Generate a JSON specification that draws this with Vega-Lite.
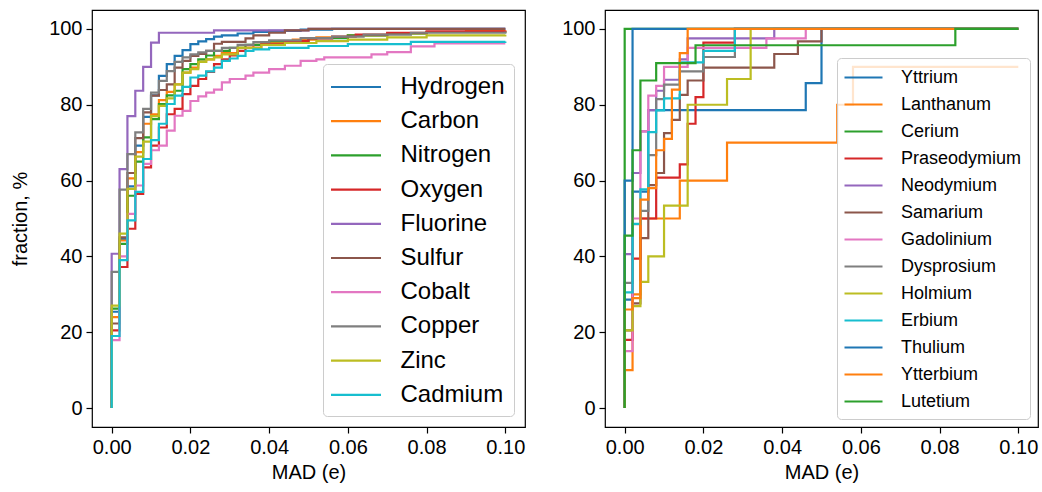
{
  "$schema": "https://vega.github.io/schema/vega-lite/v6.json",
  "padding": {"left": 10, "top": 9, "right": 0, "bottom": 0},
  "spacing": 35,
  "align": "none",
  "config": {
    "font": "Liberation Sans",
    "view": {"stroke": "black", "strokeWidth": 1.2},
    "axis": {"grid": false, "domain": false, "tickColor": "black", "tickSize": 6, "tickWidth": 1.2, "labelFontSize": 20, "labelColor": "black", "labelPadding": 4, "titleFontSize": 20, "titleFontWeight": "normal", "titleColor": "black"},
    "legend": {"strokeColor": "#cccccc", "cornerRadius": 4, "fillColor": "rgba(255,255,255,0.8)", "labelColor": "black", "title": null}
  },
  "datasets": {
    "left": [
      {"s":"Hydrogen","x":0,"y":0},{"s":"Hydrogen","x":0,"y":25.4},{"s":"Hydrogen","x":0.002,"y":44.6},{"s":"Hydrogen","x":0.004,"y":58.5},{"s":"Hydrogen","x":0.006,"y":69.2},{"s":"Hydrogen","x":0.008,"y":76.8},{"s":"Hydrogen","x":0.01,"y":82.5},{"s":"Hydrogen","x":0.012,"y":87.6},{"s":"Hydrogen","x":0.014,"y":90.7},{"s":"Hydrogen","x":0.016,"y":92.9},{"s":"Hydrogen","x":0.018,"y":94.4},{"s":"Hydrogen","x":0.02,"y":96},{"s":"Hydrogen","x":0.022,"y":96.7},{"s":"Hydrogen","x":0.024,"y":97.3},{"s":"Hydrogen","x":0.026,"y":98},{"s":"Hydrogen","x":0.028,"y":98.3},{"s":"Hydrogen","x":0.032,"y":98.8},{"s":"Hydrogen","x":0.036,"y":99.2},{"s":"Hydrogen","x":0.04,"y":99.5},{"s":"Hydrogen","x":0.048,"y":99.8},{"s":"Hydrogen","x":0.056,"y":100},{"s":"Hydrogen","x":0.1,"y":100},
      {"s":"Carbon","x":0,"y":0},{"s":"Carbon","x":0,"y":24},{"s":"Carbon","x":0.002,"y":44.2},{"s":"Carbon","x":0.004,"y":60.6},{"s":"Carbon","x":0.006,"y":67.5},{"s":"Carbon","x":0.008,"y":75},{"s":"Carbon","x":0.01,"y":77.5},{"s":"Carbon","x":0.012,"y":81.2},{"s":"Carbon","x":0.014,"y":83.4},{"s":"Carbon","x":0.016,"y":85.4},{"s":"Carbon","x":0.018,"y":88.5},{"s":"Carbon","x":0.02,"y":89.8},{"s":"Carbon","x":0.022,"y":91.4},{"s":"Carbon","x":0.024,"y":92},{"s":"Carbon","x":0.026,"y":92.9},{"s":"Carbon","x":0.028,"y":93.6},{"s":"Carbon","x":0.032,"y":95},{"s":"Carbon","x":0.036,"y":95.8},{"s":"Carbon","x":0.04,"y":96.5},{"s":"Carbon","x":0.046,"y":97.2},{"s":"Carbon","x":0.052,"y":97.8},{"s":"Carbon","x":0.06,"y":98.3},{"s":"Carbon","x":0.07,"y":98.8},{"s":"Carbon","x":0.08,"y":99.2},{"s":"Carbon","x":0.09,"y":99.5},{"s":"Carbon","x":0.1,"y":99.6},
      {"s":"Nitrogen","x":0,"y":0},{"s":"Nitrogen","x":0,"y":26.2},{"s":"Nitrogen","x":0.002,"y":43.3},{"s":"Nitrogen","x":0.004,"y":56},{"s":"Nitrogen","x":0.006,"y":65},{"s":"Nitrogen","x":0.008,"y":71.4},{"s":"Nitrogen","x":0.01,"y":76.2},{"s":"Nitrogen","x":0.012,"y":80.2},{"s":"Nitrogen","x":0.014,"y":82.5},{"s":"Nitrogen","x":0.016,"y":83.7},{"s":"Nitrogen","x":0.018,"y":89.4},{"s":"Nitrogen","x":0.02,"y":90.7},{"s":"Nitrogen","x":0.022,"y":92},{"s":"Nitrogen","x":0.024,"y":93},{"s":"Nitrogen","x":0.026,"y":94.2},{"s":"Nitrogen","x":0.03,"y":95},{"s":"Nitrogen","x":0.034,"y":95.8},{"s":"Nitrogen","x":0.04,"y":96.8},{"s":"Nitrogen","x":0.05,"y":97.6},{"s":"Nitrogen","x":0.06,"y":98.3},{"s":"Nitrogen","x":0.07,"y":98.8},{"s":"Nitrogen","x":0.08,"y":99.2},{"s":"Nitrogen","x":0.1,"y":99.3},
      {"s":"Oxygen","x":0,"y":0},{"s":"Oxygen","x":0,"y":20.5},{"s":"Oxygen","x":0.002,"y":37.2},{"s":"Oxygen","x":0.004,"y":47.3},{"s":"Oxygen","x":0.006,"y":56.5},{"s":"Oxygen","x":0.008,"y":63.5},{"s":"Oxygen","x":0.01,"y":69.2},{"s":"Oxygen","x":0.012,"y":74},{"s":"Oxygen","x":0.014,"y":77.5},{"s":"Oxygen","x":0.016,"y":78.9},{"s":"Oxygen","x":0.018,"y":82.8},{"s":"Oxygen","x":0.02,"y":85},{"s":"Oxygen","x":0.022,"y":86.8},{"s":"Oxygen","x":0.024,"y":88.7},{"s":"Oxygen","x":0.026,"y":90.7},{"s":"Oxygen","x":0.028,"y":92},{"s":"Oxygen","x":0.03,"y":93},{"s":"Oxygen","x":0.032,"y":94.2},{"s":"Oxygen","x":0.034,"y":95},{"s":"Oxygen","x":0.038,"y":96},{"s":"Oxygen","x":0.044,"y":96.8},{"s":"Oxygen","x":0.05,"y":97.5},{"s":"Oxygen","x":0.056,"y":98},{"s":"Oxygen","x":0.062,"y":98.5},{"s":"Oxygen","x":0.07,"y":99},{"s":"Oxygen","x":0.08,"y":99.4},{"s":"Oxygen","x":0.1,"y":99.6},
      {"s":"Fluorine","x":0,"y":0},{"s":"Fluorine","x":0,"y":40.7},{"s":"Fluorine","x":0.002,"y":63},{"s":"Fluorine","x":0.004,"y":77},{"s":"Fluorine","x":0.006,"y":83.7},{"s":"Fluorine","x":0.008,"y":90},{"s":"Fluorine","x":0.01,"y":96.4},{"s":"Fluorine","x":0.012,"y":99},{"s":"Fluorine","x":0.026,"y":99.6},{"s":"Fluorine","x":0.05,"y":100},{"s":"Fluorine","x":0.1,"y":100},
      {"s":"Sulfur","x":0,"y":0},{"s":"Sulfur","x":0,"y":22.3},{"s":"Sulfur","x":0.002,"y":45},{"s":"Sulfur","x":0.004,"y":62},{"s":"Sulfur","x":0.006,"y":71.2},{"s":"Sulfur","x":0.008,"y":78},{"s":"Sulfur","x":0.01,"y":82.4},{"s":"Sulfur","x":0.012,"y":83.9},{"s":"Sulfur","x":0.014,"y":85.4},{"s":"Sulfur","x":0.016,"y":89.8},{"s":"Sulfur","x":0.018,"y":91.6},{"s":"Sulfur","x":0.02,"y":92.9},{"s":"Sulfur","x":0.022,"y":93.4},{"s":"Sulfur","x":0.024,"y":94.2},{"s":"Sulfur","x":0.026,"y":96.1},{"s":"Sulfur","x":0.028,"y":96.6},{"s":"Sulfur","x":0.034,"y":97.5},{"s":"Sulfur","x":0.036,"y":98.3},{"s":"Sulfur","x":0.04,"y":99},{"s":"Sulfur","x":0.044,"y":99.6},{"s":"Sulfur","x":0.05,"y":100},{"s":"Sulfur","x":0.1,"y":100},
      {"s":"Cobalt","x":0,"y":0},{"s":"Cobalt","x":0,"y":17.9},{"s":"Cobalt","x":0.002,"y":40},{"s":"Cobalt","x":0.004,"y":51.2},{"s":"Cobalt","x":0.006,"y":58.7},{"s":"Cobalt","x":0.008,"y":64.4},{"s":"Cobalt","x":0.01,"y":68},{"s":"Cobalt","x":0.012,"y":69.2},{"s":"Cobalt","x":0.014,"y":73.2},{"s":"Cobalt","x":0.016,"y":77.1},{"s":"Cobalt","x":0.018,"y":78.4},{"s":"Cobalt","x":0.02,"y":81},{"s":"Cobalt","x":0.022,"y":82.2},{"s":"Cobalt","x":0.024,"y":83.2},{"s":"Cobalt","x":0.026,"y":84},{"s":"Cobalt","x":0.028,"y":85.9},{"s":"Cobalt","x":0.03,"y":86.8},{"s":"Cobalt","x":0.034,"y":87.7},{"s":"Cobalt","x":0.036,"y":88.5},{"s":"Cobalt","x":0.04,"y":89.4},{"s":"Cobalt","x":0.044,"y":90.3},{"s":"Cobalt","x":0.048,"y":91.6},{"s":"Cobalt","x":0.052,"y":92},{"s":"Cobalt","x":0.054,"y":92.5},{"s":"Cobalt","x":0.066,"y":93.3},{"s":"Cobalt","x":0.07,"y":93.9},{"s":"Cobalt","x":0.076,"y":95.4},{"s":"Cobalt","x":0.082,"y":96.2},{"s":"Cobalt","x":0.1,"y":96.2},
      {"s":"Copper","x":0,"y":0},{"s":"Copper","x":0,"y":35.9},{"s":"Copper","x":0.002,"y":57.6},{"s":"Copper","x":0.004,"y":67},{"s":"Copper","x":0.006,"y":72.7},{"s":"Copper","x":0.008,"y":78.9},{"s":"Copper","x":0.01,"y":83.2},{"s":"Copper","x":0.012,"y":86.3},{"s":"Copper","x":0.014,"y":88.9},{"s":"Copper","x":0.016,"y":91.3},{"s":"Copper","x":0.018,"y":92.5},{"s":"Copper","x":0.02,"y":93.3},{"s":"Copper","x":0.022,"y":93.8},{"s":"Copper","x":0.024,"y":94.2},{"s":"Copper","x":0.028,"y":95},{"s":"Copper","x":0.032,"y":95.8},{"s":"Copper","x":0.036,"y":96.5},{"s":"Copper","x":0.04,"y":97},{"s":"Copper","x":0.048,"y":97.6},{"s":"Copper","x":0.056,"y":98},{"s":"Copper","x":0.064,"y":98.5},{"s":"Copper","x":0.076,"y":99},{"s":"Copper","x":0.1,"y":99.3},
      {"s":"Zinc","x":0,"y":0},{"s":"Zinc","x":0,"y":27},{"s":"Zinc","x":0.002,"y":46},{"s":"Zinc","x":0.004,"y":57.8},{"s":"Zinc","x":0.006,"y":66.3},{"s":"Zinc","x":0.008,"y":70.3},{"s":"Zinc","x":0.01,"y":77},{"s":"Zinc","x":0.012,"y":79.7},{"s":"Zinc","x":0.014,"y":81.7},{"s":"Zinc","x":0.016,"y":85.4},{"s":"Zinc","x":0.018,"y":88.5},{"s":"Zinc","x":0.02,"y":89.4},{"s":"Zinc","x":0.022,"y":91.3},{"s":"Zinc","x":0.024,"y":92},{"s":"Zinc","x":0.026,"y":92.5},{"s":"Zinc","x":0.028,"y":93.3},{"s":"Zinc","x":0.032,"y":95},{"s":"Zinc","x":0.038,"y":95.8},{"s":"Zinc","x":0.044,"y":96.3},{"s":"Zinc","x":0.052,"y":96.8},{"s":"Zinc","x":0.06,"y":97.2},{"s":"Zinc","x":0.07,"y":97.8},{"s":"Zinc","x":0.08,"y":98.3},{"s":"Zinc","x":0.1,"y":98.5},
      {"s":"Cadmium","x":0,"y":0},{"s":"Cadmium","x":0,"y":19},{"s":"Cadmium","x":0.002,"y":39},{"s":"Cadmium","x":0.004,"y":49.5},{"s":"Cadmium","x":0.006,"y":57},{"s":"Cadmium","x":0.008,"y":65.7},{"s":"Cadmium","x":0.01,"y":70.7},{"s":"Cadmium","x":0.012,"y":75},{"s":"Cadmium","x":0.014,"y":80.2},{"s":"Cadmium","x":0.016,"y":82.4},{"s":"Cadmium","x":0.018,"y":84.7},{"s":"Cadmium","x":0.02,"y":87.2},{"s":"Cadmium","x":0.022,"y":87.7},{"s":"Cadmium","x":0.024,"y":88.8},{"s":"Cadmium","x":0.026,"y":89.8},{"s":"Cadmium","x":0.028,"y":91.6},{"s":"Cadmium","x":0.03,"y":92.2},{"s":"Cadmium","x":0.032,"y":92.9},{"s":"Cadmium","x":0.034,"y":94.2},{"s":"Cadmium","x":0.036,"y":94.6},{"s":"Cadmium","x":0.04,"y":95},{"s":"Cadmium","x":0.05,"y":95.5},{"s":"Cadmium","x":0.06,"y":96},{"s":"Cadmium","x":0.076,"y":96.6},{"s":"Cadmium","x":0.1,"y":96.7}
    ],
    "right": [
      {"s":"Yttrium","x":0,"y":0},{"s":"Yttrium","x":0,"y":28.6},{"s":"Yttrium","x":0.002,"y":57.1},{"s":"Yttrium","x":0.006,"y":78.6},{"s":"Yttrium","x":0.046,"y":85.7},{"s":"Yttrium","x":0.05,"y":100},{"s":"Yttrium","x":0.1,"y":100},
      {"s":"Lanthanum","x":0,"y":0},{"s":"Lanthanum","x":0,"y":10},{"s":"Lanthanum","x":0.002,"y":30},{"s":"Lanthanum","x":0.004,"y":50},{"s":"Lanthanum","x":0.014,"y":60},{"s":"Lanthanum","x":0.026,"y":70},{"s":"Lanthanum","x":0.054,"y":80},{"s":"Lanthanum","x":0.058,"y":90},{"s":"Lanthanum","x":0.1,"y":90},
      {"s":"Cerium","x":0,"y":0},{"s":"Cerium","x":0,"y":100},{"s":"Cerium","x":0.1,"y":100},
      {"s":"Praseodymium","x":0,"y":0},{"s":"Praseodymium","x":0,"y":18},{"s":"Praseodymium","x":0.002,"y":39.4},{"s":"Praseodymium","x":0.004,"y":50},{"s":"Praseodymium","x":0.008,"y":60.8},{"s":"Praseodymium","x":0.014,"y":64.3},{"s":"Praseodymium","x":0.016,"y":75},{"s":"Praseodymium","x":0.018,"y":82},{"s":"Praseodymium","x":0.02,"y":96.4},{"s":"Praseodymium","x":0.028,"y":100},{"s":"Praseodymium","x":0.1,"y":100},
      {"s":"Neodymium","x":0,"y":0},{"s":"Neodymium","x":0,"y":40.6},{"s":"Neodymium","x":0.002,"y":62},{"s":"Neodymium","x":0.004,"y":73},{"s":"Neodymium","x":0.006,"y":78.6},{"s":"Neodymium","x":0.008,"y":83.7},{"s":"Neodymium","x":0.01,"y":86.6},{"s":"Neodymium","x":0.014,"y":92},{"s":"Neodymium","x":0.016,"y":97.5},{"s":"Neodymium","x":0.038,"y":100},{"s":"Neodymium","x":0.1,"y":100},
      {"s":"Samarium","x":0,"y":0},{"s":"Samarium","x":0,"y":20.5},{"s":"Samarium","x":0.002,"y":27.6},{"s":"Samarium","x":0.004,"y":44.8},{"s":"Samarium","x":0.006,"y":58.8},{"s":"Samarium","x":0.008,"y":62},{"s":"Samarium","x":0.01,"y":72.5},{"s":"Samarium","x":0.012,"y":76},{"s":"Samarium","x":0.014,"y":82.6},{"s":"Samarium","x":0.016,"y":86.4},{"s":"Samarium","x":0.02,"y":89.8},{"s":"Samarium","x":0.038,"y":93.4},{"s":"Samarium","x":0.044,"y":96.7},{"s":"Samarium","x":0.05,"y":100},{"s":"Samarium","x":0.1,"y":100},
      {"s":"Gadolinium","x":0,"y":0},{"s":"Gadolinium","x":0,"y":15},{"s":"Gadolinium","x":0.002,"y":50},{"s":"Gadolinium","x":0.004,"y":73},{"s":"Gadolinium","x":0.006,"y":82.4},{"s":"Gadolinium","x":0.008,"y":85},{"s":"Gadolinium","x":0.01,"y":90},{"s":"Gadolinium","x":0.016,"y":95},{"s":"Gadolinium","x":0.036,"y":97.5},{"s":"Gadolinium","x":0.046,"y":100},{"s":"Gadolinium","x":0.1,"y":100},
      {"s":"Dysprosium","x":0,"y":0},{"s":"Dysprosium","x":0,"y":33},{"s":"Dysprosium","x":0.002,"y":48.5},{"s":"Dysprosium","x":0.004,"y":52},{"s":"Dysprosium","x":0.006,"y":66.7},{"s":"Dysprosium","x":0.008,"y":81.5},{"s":"Dysprosium","x":0.01,"y":85.3},{"s":"Dysprosium","x":0.014,"y":88.8},{"s":"Dysprosium","x":0.02,"y":92.6},{"s":"Dysprosium","x":0.028,"y":100},{"s":"Dysprosium","x":0.1,"y":100},
      {"s":"Holmium","x":0,"y":0},{"s":"Holmium","x":0,"y":20.5},{"s":"Holmium","x":0.002,"y":26.9},{"s":"Holmium","x":0.004,"y":33.3},{"s":"Holmium","x":0.006,"y":40},{"s":"Holmium","x":0.01,"y":53.4},{"s":"Holmium","x":0.016,"y":80},{"s":"Holmium","x":0.026,"y":86.8},{"s":"Holmium","x":0.032,"y":100},{"s":"Holmium","x":0.1,"y":100},
      {"s":"Erbium","x":0,"y":0},{"s":"Erbium","x":0,"y":30.5},{"s":"Erbium","x":0.002,"y":48.6},{"s":"Erbium","x":0.004,"y":57.7},{"s":"Erbium","x":0.006,"y":72.8},{"s":"Erbium","x":0.008,"y":78.5},{"s":"Erbium","x":0.01,"y":81.7},{"s":"Erbium","x":0.014,"y":91.2},{"s":"Erbium","x":0.02,"y":94.2},{"s":"Erbium","x":0.028,"y":100},{"s":"Erbium","x":0.1,"y":100},
      {"s":"Thulium","x":0,"y":0},{"s":"Thulium","x":0,"y":60},{"s":"Thulium","x":0.002,"y":100},{"s":"Thulium","x":0.1,"y":100},
      {"s":"Ytterbium","x":0,"y":0},{"s":"Ytterbium","x":0,"y":26},{"s":"Ytterbium","x":0.002,"y":29},{"s":"Ytterbium","x":0.004,"y":55},{"s":"Ytterbium","x":0.006,"y":58},{"s":"Ytterbium","x":0.008,"y":68},{"s":"Ytterbium","x":0.01,"y":71},{"s":"Ytterbium","x":0.012,"y":84},{"s":"Ytterbium","x":0.014,"y":93.6},{"s":"Ytterbium","x":0.016,"y":100},{"s":"Ytterbium","x":0.1,"y":100},
      {"s":"Lutetium","x":0,"y":0},{"s":"Lutetium","x":0,"y":45.5},{"s":"Lutetium","x":0.002,"y":68},{"s":"Lutetium","x":0.004,"y":86.4},{"s":"Lutetium","x":0.008,"y":91},{"s":"Lutetium","x":0.018,"y":95.7},{"s":"Lutetium","x":0.084,"y":100},{"s":"Lutetium","x":0.1,"y":100}
    ]
  },
  "resolve": {"scale": {"color": "independent"}, "legend": {"color": "independent"}},
  "hconcat": [
    {
      "width": 433, "height": 417,
      "data": {"name": "left"},
      "mark": {"type": "line", "interpolate": "step-after", "strokeWidth": 2.2, "clip": true},
      "encoding": {
        "x": {"field": "x", "type": "quantitative", "scale": {"domain": [-0.005, 0.105], "nice": false, "zero": false}, "axis": {"values": [0, 0.02, 0.04, 0.06, 0.08, 0.1], "format": ".2f", "title": "MAD (e)", "titlePadding": 5}},
        "y": {"field": "y", "type": "quantitative", "scale": {"domain": [-5, 105], "nice": false, "zero": false}, "axis": {"values": [0, 20, 40, 60, 80, 100], "title": "fraction, %", "titlePadding": 18}},
        "color": {"field": "s", "type": "nominal", "scale": {"domain": ["Hydrogen","Carbon","Nitrogen","Oxygen","Fluorine","Sulfur","Cobalt","Copper","Zinc","Cadmium"], "range": ["#1f77b4","#ff7f0e","#2ca02c","#d62728","#9467bd","#8c564b","#e377c2","#7f7f7f","#bcbd22","#17becf"]},
          "legend": {"orient": "bottom-right", "offset": 11, "symbolType": "M-2,0H2", "labelFontSize": 24, "symbolSize": 625, "symbolStrokeWidth": 2.2, "symbolOffset": 10, "labelOffset": 30.5, "padding": 9, "rowPadding": 8.2}},
        "order": {"value": null}
      }
    },
    {
      "width": 433, "height": 417,
      "data": {"name": "right"},
      "mark": {"type": "line", "interpolate": "step-after", "strokeWidth": 2.2, "clip": true},
      "encoding": {
        "x": {"field": "x", "type": "quantitative", "scale": {"domain": [-0.005, 0.105], "nice": false, "zero": false}, "axis": {"values": [0, 0.02, 0.04, 0.06, 0.08, 0.1], "format": ".2f", "title": "MAD (e)", "titlePadding": 5}},
        "y": {"field": "y", "type": "quantitative", "scale": {"domain": [-5, 105], "nice": false, "zero": false}, "axis": {"values": [0, 20, 40, 60, 80, 100], "title": null}},
        "color": {"field": "s", "type": "nominal", "scale": {"domain": ["Yttrium","Lanthanum","Cerium","Praseodymium","Neodymium","Samarium","Gadolinium","Dysprosium","Holmium","Erbium","Thulium","Ytterbium","Lutetium"], "range": ["#1f77b4","#ff7f0e","#2ca02c","#d62728","#9467bd","#8c564b","#e377c2","#7f7f7f","#bcbd22","#17becf","#1f77b4","#ff7f0e","#2ca02c"]},
          "legend": {"orient": "bottom-right", "offset": 8, "symbolType": "M-1.9,0H1.9", "labelFontSize": 18, "symbolSize": 400, "symbolStrokeWidth": 2.2, "symbolOffset": 7, "labelOffset": 26, "padding": 8, "rowPadding": 6.0}},
        "order": {"value": null}
      }
    }
  ]
}
